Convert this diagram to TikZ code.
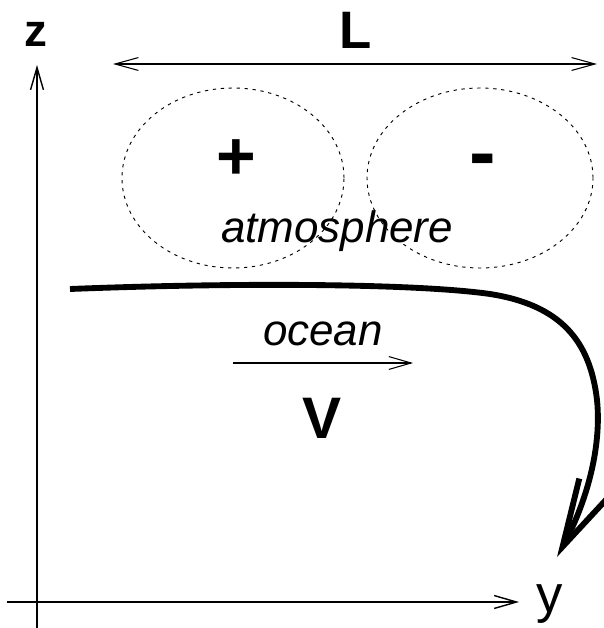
\documentclass[tikz,border=0pt]{standalone}
\usepackage{fontspec}
\setmainfont{Liberation Sans}
\usepackage{tikz}
\usetikzlibrary{arrows.meta,positioning,shapes.geometric}

\begin{document}
\begin{tikzpicture}[x=0.03cm,y=-0.03cm,
  label/.style={inner sep=0pt,anchor=base},
  vortex/.style={ellipse,draw,dash pattern=on 2.8pt off 4pt,line width=0.8pt,inner sep=0pt},
  thinarrow/.style={-{Straight Barb[length=19pt,width=11pt]},line width=0.9pt}]
\useasboundingbox (0,0) rectangle (603,628);
% axes
\coordinate (zbottom) at (37,628);
\coordinate (ztop) at (37,65);
\coordinate (yleft) at (7,602);
\coordinate (yright) at (519,602);
\draw[thinarrow,line width=1.2pt] (zbottom) -- (ztop);
\draw[thinarrow,line width=1.2pt] (yleft) -- (yright);
\node[label,font=\fontsize{39}{42}\selectfont\bfseries] (zlabel) at (36,47) {z};
\node[label,font=\fontsize{45}{48}\selectfont] (ylabel) at (550,612) {y};
% length scale
\coordinate (Lleft) at (113,64);
\coordinate (Lright) at (597,64);
\draw[{Straight Barb[length=20pt,width=11pt]}-{Straight Barb[length=20pt,width=11pt]},line width=0.9pt] (Lleft) -- (Lright);
\node[label,font=\fontsize{45}{48}\selectfont\bfseries] (Llabel) at (356,49) {L};
% atmospheric vortices
\node[vortex,minimum width=6.66cm,minimum height=5.4cm] (vortexP) at (233,178) {};
\node[vortex,minimum width=6.78cm,minimum height=5.4cm] (vortexM) at (480,178) {};
\node[inner sep=0pt,font=\fontsize{58}{60}\selectfont\bfseries] (plus) at (236,160) {+};
\node[inner sep=0pt,font=\fontsize{68}{70}\selectfont\bfseries] (minus) at (483,167) {-};
\node[label,font=\fontsize{37.5}{40}\selectfont\itshape] (atmo) at (337,242) {atmosphere};
% sea surface bending down
\coordinate (surf) at (70,289);
\coordinate (tip) at (557,557);
\draw[line width=5pt,-{Straight Barb[length=58pt,width=30pt,line width=5pt]}]
  (surf) .. controls (250,282) and (420,284) .. (490,294)
  .. controls (560,305) and (590,340) .. (597,400)
  .. controls (602,450) and (585,505) .. (tip);
% ocean drift
\node[label,font=\fontsize{37.5}{40}\selectfont\itshape] (ocean) at (323,345) {ocean};
\coordinate (vstart) at (233,363);
\coordinate (vend) at (413,363);
\draw[thinarrow] (vstart) -- (vend);
\node[label,font=\fontsize{50}{52}\selectfont\bfseries] (vel) at (322,438) {V};
\end{tikzpicture}
\end{document}
